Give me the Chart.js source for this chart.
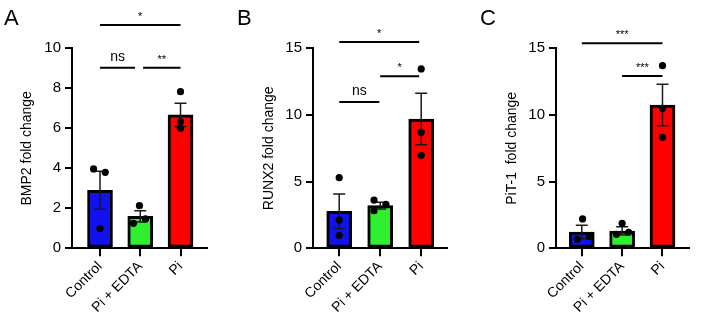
<!DOCTYPE html>
<html>
<head>
<meta charset="utf-8">
<script src="https://cdn.jsdelivr.net/npm/chart.js@4.4.1/dist/chart.umd.min.js"></script>
<style>
  html, body { margin: 0; padding: 0; background: #fff; }
  body { width: 710px; height: 321px; position: relative; overflow: hidden; font-family: 'Liberation Sans', Arial, sans-serif; }
  canvas { position: absolute; top: 0; }
  .tag { position: absolute; top: 7px; font-size: 22px; line-height: 22px; color: #000; }
</style>
</head>
<body>
<canvas id="chartA" width="235" height="321" style="left:0"></canvas>
<canvas id="chartB" width="235" height="321" style="left:235px"></canvas>
<canvas id="chartC" width="240" height="321" style="left:470px"></canvas>
<div class="tag" style="left:4px">A</div>
<div class="tag" style="left:237px">B</div>
<div class="tag" style="left:480px">C</div>
<script>
// groups (x axis)
const categories = ['Control', 'Pi + EDTA', 'Pi'];
const barColors = ['#1012f2', '#2ef02e', '#ff0000'];

// A - BMP2
const bmp2Mean = [2.9, 1.6, 6.67];
const bmp2Sem = [0.95, 0.28, 0.58];
const bmp2Points = [[3.97, 3.8, 0.98], [2.13, 1.25, 1.47], [7.83, 6.33, 6.0]];
const bmp2Jitter = [[-0.16, 0.13, 0], [-0.02, -0.17, 0.13], [0, 0, 0]];
const bmp2Brackets = [
  { from: 0, to: 2, y: 11.17, label: '*' },
  { from: 0, to: 0.87, y: 9.03, label: 'ns' },
  { from: 1.07, to: 2, y: 9.03, label: '**' }
];
const bmp2Ticks = [0, 2, 4, 6, 8, 10];

// B - RUNX2
const runx2Mean = [2.78, 3.2, 9.7];
const runx2Sem = [1.3, 0.25, 1.93];
const runx2Points = [[5.3, 2.13, 0.96], [3.62, 2.82, 3.3], [13.45, 8.7, 6.98]];
const runx2Jitter = [[0, 0, 0], [-0.15, -0.15, 0.14], [0, 0, 0]];
const runx2Brackets = [
  { from: 0, to: 1.95, y: 15.47, label: '*' },
  { from: 0, to: 0.98, y: 10.97, label: 'ns' },
  { from: 1.0, to: 1.95, y: 12.9, label: '*' }
];
const runx2Ticks = [0, 5, 10, 15];

// C - PiT-1
const pit1Mean = [1.22, 1.3, 10.75];
const pit1Sem = [0.5, 0.31, 1.55];
const pit1Points = [[2.2, 0.68, 0.87], [1.87, 1.05, 1.2], [13.7, 10.5, 8.33]];
const pit1Jitter = [[0.02, -0.11, 0.19], [0, -0.14, 0.16], [0, 0, 0]];
const pit1Brackets = [
  { from: 0, to: 2, y: 15.37, label: '***' },
  { from: 1, to: 2, y: 12.92, label: '***' }
];
const pit1Ticks = [0, 5, 10, 15];

Chart.defaults.font.family = "'Liberation Sans', Arial, sans-serif";
Chart.defaults.color = '#000';

function drawPanel(id, p) {
  const pointData = [];
  p.points.forEach((grp, i) => grp.forEach((v, k) => pointData.push({ x: i + p.jitter[i][k], y: v })));

  const datasets = [{
    type: 'bar',
    data: p.mean.map((v, i) => ({ x: i, y: v })),
    backgroundColor: barColors,
    borderColor: '#000',
    borderWidth: 3,
    borderSkipped: false,
    barThickness: 25,
    order: 3
  }, {
    type: 'scatter',
    data: pointData,
    backgroundColor: '#000',
    borderWidth: 0,
    pointRadius: 3.6,
    order: 1
  }];
  p.brackets.forEach(b => datasets.push({
    type: 'line',
    data: [{ x: b.from, y: b.y }, { x: b.to, y: b.y }],
    borderColor: '#000',
    borderWidth: 2,
    pointRadius: 0,
    clip: false,
    order: 2
  }));

  // error bars (mean ± SEM) and significance labels
  const extras = {
    id: 'extras',
    afterDatasetDraw(chart, args) {
      if (args.index !== 0) return;
      const { ctx, scales: { x, y } } = chart;
      ctx.save();
      ctx.strokeStyle = '#1a1a1a';
      ctx.lineWidth = 1.5;
      p.mean.forEach((m, i) => {
        const px = x.getPixelForValue(i);
        const top = y.getPixelForValue(m + p.sem[i]);
        const bot = y.getPixelForValue(m - p.sem[i]);
        ctx.beginPath();
        ctx.moveTo(px, top); ctx.lineTo(px, bot);
        ctx.moveTo(px - 6, top); ctx.lineTo(px + 6, top);
        ctx.moveTo(px - 6, bot); ctx.lineTo(px + 6, bot);
        ctx.stroke();
      });
      ctx.restore();
    },
    afterDraw(chart) {
      const { ctx, scales: { x, y } } = chart;
      ctx.save();
      ctx.fillStyle = '#000';
      ctx.textAlign = 'center';
      ctx.textBaseline = 'alphabetic';
      p.brackets.forEach(b => {
        const cx = (x.getPixelForValue(b.from) + x.getPixelForValue(b.to)) / 2;
        const cy = y.getPixelForValue(b.y);
        if (b.label === 'ns') {
          ctx.font = "14px 'Liberation Sans', Arial, sans-serif";
          ctx.fillText(b.label, cx, cy - 7);
        } else {
          ctx.font = "11px 'Liberation Sans', Arial, sans-serif";
          ctx.fillText(b.label, cx, cy - 5);
        }
      });
      ctx.restore();
    }
  };

  return new Chart(document.getElementById(id), {
    type: 'bar',
    data: { datasets: datasets },
    plugins: [extras],
    options: {
      responsive: false,
      animation: false,
      layout: { padding: { top: 48.3, right: p.padRight, bottom: 0, left: 0 } },
      plugins: { legend: { display: false }, tooltip: { enabled: false } },
      scales: {
        x: {
          type: 'linear',
          min: p.xMin,
          max: p.xMax,
          offset: false,
          afterBuildTicks: s => { s.ticks = categories.map((c, i) => ({ value: i })); },
          afterFit: s => { s.height = 72.7; },
          grid: { offset: false, drawOnChartArea: false, drawTicks: true, tickLength: 8, color: '#000', lineWidth: 2 },
          border: { color: '#000', width: 2 },
          ticks: { callback: v => categories[v], autoSkip: false, minRotation: 45, maxRotation: 45, padding: 2, font: { size: 14 } }
        },
        y: {
          min: 0,
          max: p.ticks[p.ticks.length - 1],
          afterBuildTicks: s => { s.ticks = p.ticks.map(v => ({ value: v })); },
          afterFit: s => { s.width = p.axisX; },
          grid: { drawOnChartArea: false, tickLength: 7, color: '#000', lineWidth: 2 },
          border: { color: '#000', width: 2 },
          ticks: { padding: 4, font: { size: 15 } },
          title: { display: true, text: p.title, font: { size: 14 }, padding: { top: p.titlePad, bottom: 0 } }
        }
      }
    }
  });
}

drawPanel('chartA', {
  mean: bmp2Mean, sem: bmp2Sem, points: bmp2Points, jitter: bmp2Jitter, brackets: bmp2Brackets, ticks: bmp2Ticks,
  title: 'BMP2 fold change', axisX: 72, xMin: -0.696, xMax: 2.658, padRight: 28, titlePad: 18.6
});
drawPanel('chartB', {
  mean: runx2Mean, sem: runx2Sem, points: runx2Points, jitter: runx2Jitter, brackets: runx2Brackets, ticks: runx2Ticks,
  title: 'RUNX2 fold change', axisX: 78, xMin: -0.639, xMax: 2.622, padRight: 23.3, titlePad: 25.6
});
drawPanel('chartC', {
  mean: pit1Mean, sem: pit1Sem, points: pit1Points, jitter: pit1Jitter, brackets: pit1Brackets, ticks: pit1Ticks,
  title: 'PiT-1  fold change', axisX: 86, xMin: -0.639, xMax: 2.657, padRight: 21, titlePad: 33.6
});
</script>
</body>
</html>
